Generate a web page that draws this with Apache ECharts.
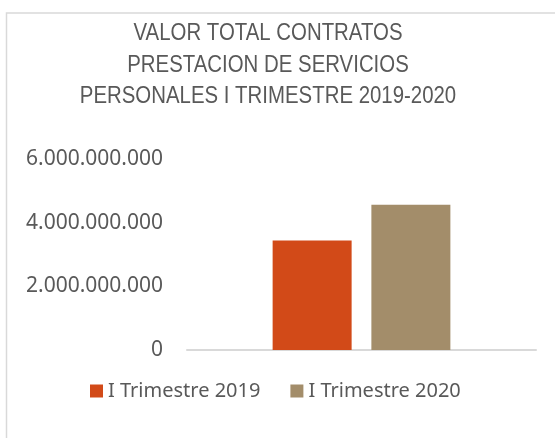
<!DOCTYPE html>
<html>
<head>
<meta charset="utf-8">
<script src="https://cdn.jsdelivr.net/npm/echarts@6/dist/echarts.min.js"></script>
<style>
  html, body { margin: 0; padding: 0; background: #fff; }
  #chart { width: 555px; height: 438px; }
</style>
</head>
<body>
<div id="chart"></div>
<script>
// data
var categories = ['Valor'];
var seriesNames = ['I Trimestre 2019', 'I Trimestre 2020'];
var values2019 = [3440000000];
var values2020 = [4560000000];
var yTicks = [0, 2000000000, 4000000000, 6000000000];
var titleLines = ['VALOR TOTAL CONTRATOS', 'PRESTACION DE SERVICIOS', 'PERSONALES I TRIMESTRE 2019-2020'];

var colors = ['#D24A18', '#A38D6A'];
var textColor = '#595959';

function puntos(v) {
  return String(v).replace(/\B(?=(\d{3})+(?!\d))/g, '.');
}

// narrow title: Liberation Sans squeezed like Arial Narrow
var titleY = [33.5, 65, 96];
var titleTexts = titleLines.map(function (t, i) {
  return {
    type: 'text',
    x: 0,
    y: titleY[i],
    style: {
      text: t,
      fill: textColor,
      font: '24px "Liberation Sans", Arial, sans-serif',
      textAlign: 'center',
      textVerticalAlign: 'middle'
    }
  };
});

var chart = echarts.init(document.getElementById('chart'));
chart.setOption({
  animation: false,
  color: colors,
  legend: {
    data: seriesNames,
    left: 90,
    top: 381,
    padding: 0,
    icon: 'rect',
    itemWidth: 13,
    itemHeight: 13,
    itemGap: 30,
    textStyle: {
      fontFamily: '"Noto Sans", sans-serif',
      fontSize: 20,
      color: textColor
    }
  },
  grid: {
    left: 187,
    right: 19,
    top: 159,
    bottom: 88,
    containLabel: false
  },
  xAxis: {
    type: 'category',
    data: categories,
    axisLine: { lineStyle: { color: '#D9D9D9', width: 2 } },
    axisTick: { show: false },
    axisLabel: { show: false }
  },
  yAxis: {
    type: 'value',
    min: yTicks[0],
    max: yTicks[yTicks.length - 1],
    interval: yTicks[1] - yTicks[0],
    axisLine: { show: false },
    axisTick: { show: false },
    splitLine: { show: false },
    axisLabel: {
      margin: 24,
      formatter: puntos,
      fontFamily: '"Noto Sans", sans-serif',
      fontSize: 21,
      color: textColor
    }
  },
  series: [
    {
      name: seriesNames[0],
      type: 'bar',
      barWidth: 79,
      barGap: '25%',
      data: values2019
    },
    {
      name: seriesNames[1],
      type: 'bar',
      barWidth: 79,
      barGap: '25%',
      data: values2020
    }
  ],
  graphic: [
    {
      type: 'polyline',
      shape: { points: [[6.5, 438], [6.5, 13], [555, 13]] },
      style: { stroke: '#D9D9D9', lineWidth: 1.5, fill: null },
      silent: true
    },
    {
      type: 'group',
      x: 268,
      y: 0,
      scaleX: 0.85,
      silent: true,
      children: titleTexts
    }
  ]
});
</script>
</body>
</html>
